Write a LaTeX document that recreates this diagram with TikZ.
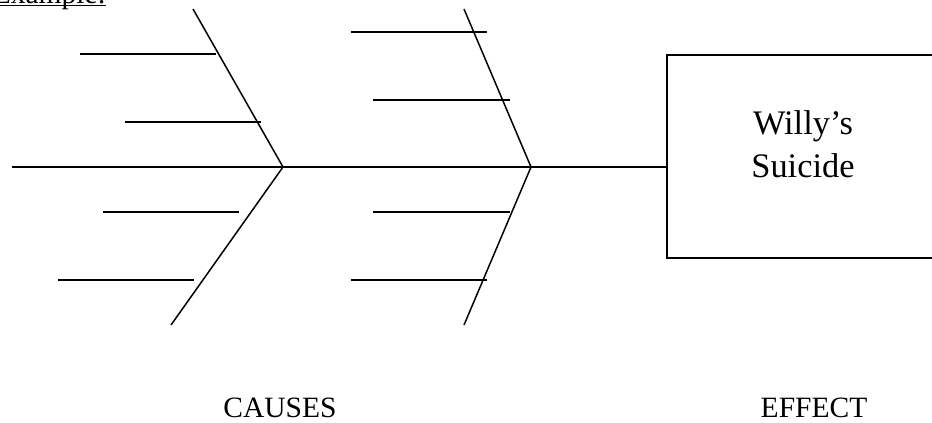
\documentclass[tikz,border=0pt]{standalone}
\usepackage{fontspec}
\setmainfont{Liberation Serif}
\begin{document}
\begin{tikzpicture}[x=1pt,y=-1pt,
  spine/.style={line width=2pt},
  bone/.style={line width=1.5pt},
  rib/.style={line width=2.4pt},
  effbox/.style={draw,line width=2pt,rectangle,minimum width=300pt,minimum height=203pt,anchor=north west,inner sep=0pt},
  lbl/.style={inner sep=0pt,anchor=base,font=\fontsize{29.5}{35}\selectfont},
  boxtxt/.style={inner sep=0pt,anchor=base,font=\fontsize{34.4}{40}\selectfont}]
\useasboundingbox (0,0) rectangle (932,423);
\clip (0,0) rectangle (932,423);
\fill[white] (0,0) rectangle (932,423);
% title
\node[inner sep=0pt,anchor=base east,font=\fontsize{29.5}{35}\selectfont] (ex) at (106,3) {Example:};
\coordinate (ul0) at (0,5.5);
\coordinate (ul1) at (106,5.5);
\draw[line width=1.5pt] (ul0) -- (ul1);
% effect box
\node[effbox] (box) at (666,54) {};
% spine
\coordinate (s0) at (12,167);
\coordinate (j1) at (283,167);
\coordinate (j2) at (531,167);
\draw[spine] (s0) -- (j1) -- (j2) -- (box.west |- j2);
% bones
\coordinate (b1t) at (193,9);
\coordinate (b1b) at (171,325);
\coordinate (b2t) at (464,9);
\coordinate (b2b) at (464,325);
\draw[bone] (b1t) -- (j1) -- (b1b);
\draw[bone] (b2t) -- (j2) -- (b2b);
% ribs, first bone
\coordinate (r1a) at (80,54);   \coordinate (r1b) at (216,54);
\coordinate (r2a) at (125,122); \coordinate (r2b) at (261,122);
\coordinate (r3a) at (103,212); \coordinate (r3b) at (239,212);
\coordinate (r4a) at (58,280);  \coordinate (r4b) at (194,280);
\draw[rib] (r1a) -- (r1b);
\draw[rib] (r2a) -- (r2b);
\draw[rib] (r3a) -- (r3b);
\draw[rib] (r4a) -- (r4b);
% ribs, second bone
\coordinate (q1a) at (351,32);  \coordinate (q1b) at (487,32);
\coordinate (q2a) at (373,100); \coordinate (q2b) at (510,100);
\coordinate (q3a) at (373,212); \coordinate (q3b) at (510,212);
\coordinate (q4a) at (351,280); \coordinate (q4b) at (487,280);
\draw[rib] (q1a) -- (q1b);
\draw[rib] (q2a) -- (q2b);
\draw[rib] (q3a) -- (q3b);
\draw[rib] (q4a) -- (q4b);
% box text
\node[boxtxt] (w1) at (803,134) {Willy’s};
\node[boxtxt] (w2) at (803,177) {Suicide};
% labels
\node[lbl] (causes) at (280,417) {CAUSES};
\node[lbl] (effect) at (814,417) {EFFECT};
\end{tikzpicture}
\end{document}
